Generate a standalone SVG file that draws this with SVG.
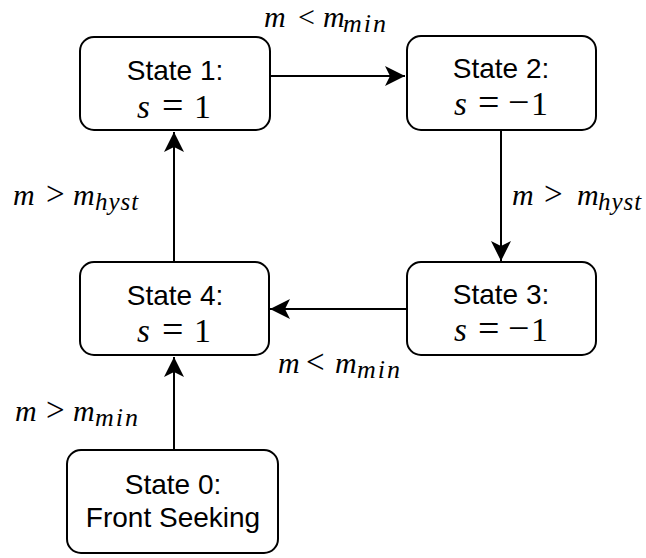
<svg xmlns="http://www.w3.org/2000/svg" width="646" height="558" viewBox="0 0 646 558">
<style>
.box{fill:#fff;stroke:#000;stroke-width:2}
.lbl{font-family:"Liberation Sans",Arial,Helvetica,sans-serif;font-size:28px;fill:#000;text-anchor:middle}
.math{font-family:"Liberation Serif","Times New Roman",serif;font-size:30px;fill:#000}
.bm{font-size:33px}
.i{font-style:italic}
.op{font-size:38px}
.rel{font-size:33px}
.one{font-size:34px}
.sub{font-style:italic;font-size:26px;letter-spacing:2px}
.subh{font-style:italic;font-size:25px;letter-spacing:1px}
.edge{stroke:#000;stroke-width:2;fill:none;marker-end:url(#arr)}
</style>
<defs>
<marker id="arr" markerUnits="userSpaceOnUse" markerWidth="22" markerHeight="22" viewBox="0 0 22 22" refX="20" refY="11" orient="auto">
<path d="M20,11 L0,1 L5,11 L0,21 Z" fill="#000"/>
</marker>
</defs>
<g id="connectors">
<line class="edge" x1="271" y1="76" x2="405" y2="76"/>
<line class="edge" x1="501" y1="131" x2="501" y2="261"/>
<line class="edge" x1="406" y1="309" x2="270" y2="309"/>
<line class="edge" x1="174" y1="262" x2="174" y2="132"/>
<line class="edge" x1="174" y1="450" x2="174" y2="357"/>
</g>
<g id="state1">
<rect class="box" x="80" y="37" width="190" height="93" rx="14"/>
<text class="lbl" x="175" y="80">State 1:</text>
<text class="math bm" y="118"><tspan class="i" x="137">s</tspan><tspan class="op" x="162">=</tspan><tspan class="one" x="194">1</tspan></text>
</g>
<g id="state2">
<rect class="box" x="407" y="36" width="189" height="94" rx="14"/>
<text class="lbl" x="501" y="78">State 2:</text>
<text class="math bm" y="115"><tspan class="i" x="454">s</tspan><tspan class="op" x="478">=</tspan><tspan class="op" x="508">−</tspan><tspan class="one" x="531">1</tspan></text>
</g>
<g id="state3">
<rect class="box" x="407" y="262" width="189" height="93" rx="14"/>
<text class="lbl" x="501" y="304">State 3:</text>
<text class="math bm" y="341"><tspan class="i" x="454">s</tspan><tspan class="op" x="478">=</tspan><tspan class="op" x="508">−</tspan><tspan class="one" x="531">1</tspan></text>
</g>
<g id="state4">
<rect class="box" x="80" y="262" width="189" height="93" rx="14"/>
<text class="lbl" x="175" y="305">State 4:</text>
<text class="math bm" y="342"><tspan class="i" x="137">s</tspan><tspan class="op" x="162">=</tspan><tspan class="one" x="194">1</tspan></text>
</g>
<g id="state0">
<rect class="box" x="67" y="450" width="211" height="103" rx="14"/>
<text class="lbl" x="173" y="494">State 0:</text>
<text class="lbl" x="173" y="527">Front Seeking</text>
</g>
<g id="labels">
<text class="math" y="27"><tspan class="i" x="264">m</tspan><tspan x="298">&lt;</tspan><tspan class="i" x="323">m</tspan><tspan class="sub" x="343" dy="5">min</tspan></text>
<text class="math" y="205"><tspan class="i" x="13">m</tspan><tspan class="rel" x="46">&gt;</tspan><tspan class="i" x="73">m</tspan><tspan class="subh" x="95" dy="5">hyst</tspan></text>
<text class="math" y="205"><tspan class="i" x="512">m</tspan><tspan class="rel" x="544">&gt;</tspan><tspan class="i" x="577">m</tspan><tspan class="subh" x="598" dy="5">hyst</tspan></text>
<text class="math" y="373"><tspan class="i" x="278">m</tspan><tspan class="rel" x="306">&lt;</tspan><tspan class="i" x="335">m</tspan><tspan class="sub" x="357" dy="5">min</tspan></text>
<text class="math" y="421"><tspan class="i" x="15">m</tspan><tspan class="rel" x="46">&gt;</tspan><tspan class="i" x="73">m</tspan><tspan class="sub" x="95" dy="5">min</tspan></text>
</g>
</svg>
